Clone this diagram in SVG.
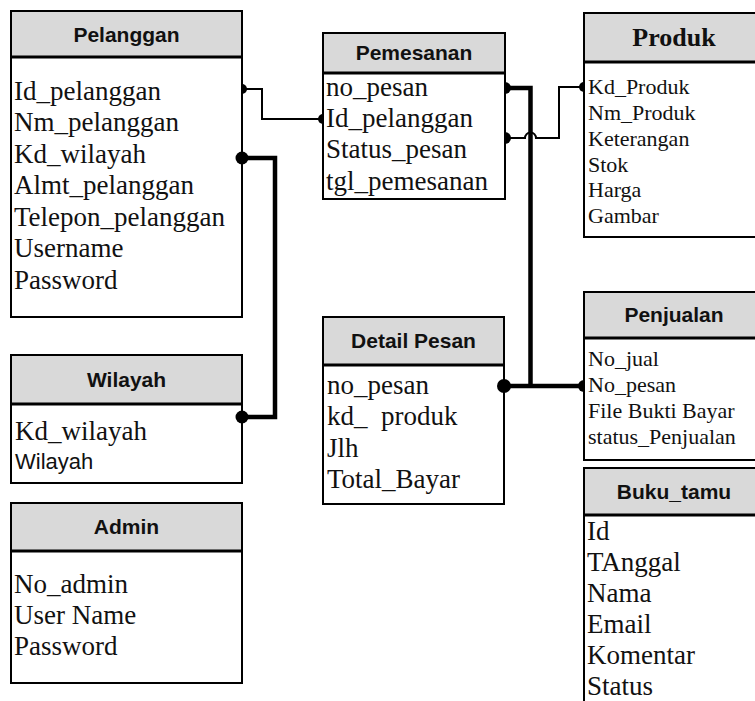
<svg xmlns="http://www.w3.org/2000/svg" width="755" height="701" viewBox="0 0 755 701">
<style>
.box{fill:#fff;stroke:#000;stroke-width:2}
.hdr{fill:#d9d9d9;stroke:#000;stroke-width:2}
.div{stroke:#000;stroke-width:3}
.ht{font-family:"Liberation Sans",Arial,sans-serif;font-weight:bold;font-size:21px;text-anchor:middle;fill:#111}
.hts{font-family:"Liberation Serif","Times New Roman",serif;font-weight:bold;font-size:26px;text-anchor:middle;fill:#111}
.f{font-family:"Liberation Serif","Times New Roman",serif;font-size:27px;fill:#111;white-space:pre}
.s{font-family:"Liberation Serif","Times New Roman",serif;font-size:22px;fill:#111;white-space:pre}
.sa{font-family:"Liberation Sans",Arial,sans-serif;font-size:22px;fill:#111}
.thin{fill:none;stroke:#000;stroke-width:2}
.thick{fill:none;stroke:#000;stroke-width:4.5}
.dot{fill:#000}
</style>
<rect width="755" height="701" fill="#fff"/>

<g id="pelanggan">
<rect class="box" x="11" y="11" width="231" height="306"/>
<rect class="hdr" x="11" y="11" width="231" height="46"/>
<line class="div" x1="11" y1="57" x2="242" y2="57"/>
<text class="ht" x="126.5" y="42">Pelanggan</text>
<text class="f" x="14" y="100">Id_pelanggan</text>
<text class="f" x="14" y="131">Nm_pelanggan</text>
<text class="f" x="14" y="163">Kd_wilayah</text>
<text class="f" x="14" y="194">Almt_pelanggan</text>
<text class="f" x="14" y="226">Telepon_pelanggan</text>
<text class="f" x="14" y="257">Username</text>
<text class="f" x="14" y="289">Password</text>
</g>

<g id="wilayah">
<rect class="box" x="11" y="355" width="231" height="128"/>
<rect class="hdr" x="11" y="355" width="231" height="49"/>
<line class="div" x1="11" y1="404" x2="242" y2="404"/>
<text class="ht" x="126.5" y="387">Wilayah</text>
<text class="f" x="15" y="440">Kd_wilayah</text>
<text class="sa" x="15" y="469">Wilayah</text>
</g>

<g id="admin">
<rect class="box" x="11" y="503" width="231" height="180"/>
<rect class="hdr" x="11" y="503" width="231" height="48"/>
<line class="div" x1="11" y1="551" x2="242" y2="551"/>
<text class="ht" x="126.5" y="534">Admin</text>
<text class="f" x="14" y="593">No_admin</text>
<text class="f" x="14" y="624">User Name</text>
<text class="f" x="14" y="655">Password</text>
</g>

<g id="pemesanan">
<rect class="box" x="323" y="33" width="182" height="166"/>
<rect class="hdr" x="323" y="33" width="182" height="40"/>
<line class="div" x1="323" y1="73" x2="505" y2="73"/>
<text class="ht" x="414" y="60">Pemesanan</text>
<text class="f" x="326" y="96">no_pesan</text>
<text class="f" x="326" y="127">Id_pelanggan</text>
<text class="f" x="326" y="158">Status_pesan</text>
<text class="f" x="326" y="190">tgl_pemesanan</text>
</g>

<g id="detail-pesan">
<rect class="box" x="323" y="317" width="181" height="187"/>
<rect class="hdr" x="323" y="317" width="181" height="48"/>
<line class="div" x1="323" y1="365" x2="504" y2="365"/>
<text class="ht" x="413.5" y="348">Detail Pesan</text>
<text class="f" x="327" y="394">no_pesan</text>
<text class="f" x="327" y="425">kd_  produk</text>
<text class="f" x="327" y="457">Jlh</text>
<text class="f" x="327" y="488">Total_Bayar</text>
</g>

<g id="produk">
<rect class="box" x="584" y="13" width="180" height="224"/>
<rect class="hdr" x="584" y="13" width="180" height="49"/>
<line class="div" x1="584" y1="62" x2="764" y2="62"/>
<text class="hts" x="674" y="46">Produk</text>
<text class="s" x="588" y="94">Kd_Produk</text>
<text class="s" x="588" y="120">Nm_Produk</text>
<text class="s" x="588" y="146">Keterangan</text>
<text class="s" x="588" y="172">Stok</text>
<text class="s" x="588" y="197">Harga</text>
<text class="s" x="588" y="223">Gambar</text>
</g>

<g id="penjualan">
<rect class="box" x="584" y="292" width="180" height="168"/>
<rect class="hdr" x="584" y="292" width="180" height="46"/>
<line class="div" x1="584" y1="338" x2="764" y2="338"/>
<text class="ht" x="674" y="322">Penjualan</text>
<text class="s" x="588" y="366">No_jual</text>
<text class="s" x="588" y="392">No_pesan</text>
<text class="s" x="588" y="418">File Bukti Bayar</text>
<text class="s" x="588" y="444">status_Penjualan</text>
</g>

<g id="buku-tamu">
<rect class="box" x="584" y="468" width="180" height="250"/>
<rect class="hdr" x="584" y="468" width="180" height="47"/>
<line class="div" x1="584" y1="515" x2="764" y2="515"/>
<text class="ht" x="674" y="499">Buku_tamu</text>
<text class="f" x="587" y="540">Id</text>
<text class="f" x="587" y="571">TAnggal</text>
<text class="f" x="587" y="602">Nama</text>
<text class="f" x="587" y="633">Email</text>
<text class="f" x="587" y="664">Komentar</text>
<text class="f" x="587" y="695">Status</text>
</g>

<g id="connectors">
<path class="thin" d="M242,89 H262 V119 H323"/>
<path class="dot" d="M242,84 A5,5 0 0 1 242,94 Z"/>
<path class="dot" d="M323,114 A5,5 0 0 0 323,124 Z"/>

<path class="thick" d="M242,158 H275 V417 H242"/>
<circle class="dot" cx="242" cy="158" r="6.5"/>
<circle class="dot" cx="242" cy="417" r="6.5"/>

<path class="thick" d="M505,88 H530.5 V386"/>
<path class="thick" d="M504,386 H584"/>
<path class="dot" d="M505,82 A6,6 0 0 1 505,94 Z"/>
<circle class="dot" cx="504" cy="386" r="7"/>
<path class="dot" d="M584,380 A6,6 0 0 0 584,392 Z"/>

<path class="thin" d="M505,138 H525 A5.5,5.5 0 0 1 536,138 H559 V87 H584"/>
<path class="dot" d="M505,132 A6,6 0 0 1 505,144 Z"/>
<path class="dot" d="M584,82 A5,5 0 0 0 584,92 Z"/>
</g>
</svg>
